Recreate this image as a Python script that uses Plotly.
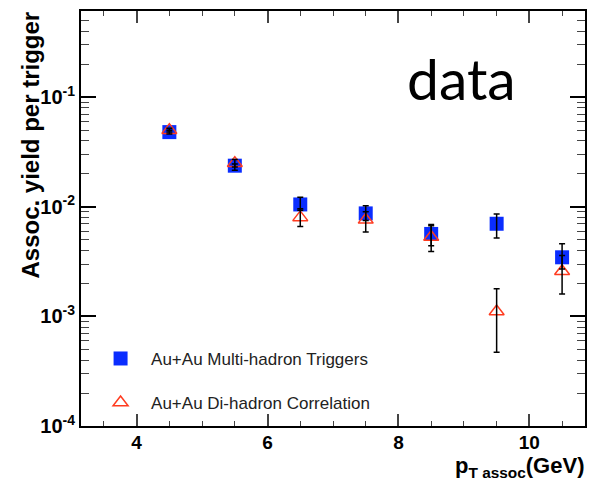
import plotly.graph_objects as go

x_vals = [4.5, 5.5, 6.5, 7.5, 8.5, 9.5, 10.5]

multi_y = [0.048, 0.0237, 0.0105, 0.0087, 0.00565, 0.0070, 0.00346]
multi_hi = [0.050, 0.0245, 0.0122, 0.0102, 0.0069, 0.0086, 0.0046]
multi_lo = [0.046, 0.0215, 0.0093, 0.0075, 0.0044, 0.0052, 0.0027]

di_y = [0.050, 0.025, 0.0080, 0.0076, 0.0053, 0.00111, 0.00258]
di_hi = [0.052, 0.027, 0.0096, 0.0090, 0.0067, 0.00179, 0.0036]
di_lo = [0.048, 0.023, 0.0066, 0.0059, 0.0039, 0.00047, 0.0016]

x_ticks = [4, 6, 8, 10]
y_ticks = [1e-4, 1e-3, 1e-2, 1e-1]
y_ticktext = ["<b>10<sup>-4</sup></b>", "<b>10<sup>-3</sup></b>", "<b>10<sup>-2</sup></b>", "<b>10<sup>-1</sup></b>"]

name_multi = "Au+Au Multi-hadron Triggers"
name_di = "Au+Au Di-hadron Correlation"

FONT = "Liberation Sans, Arial, sans-serif"
BLUE = "#0a2dff"
RED = "#ff3b1f"

X_RANGE = [3.15, 10.85]

fig = go.Figure()

fig.add_trace(go.Scatter(
    x=x_vals, y=multi_y, mode="markers", name=name_multi, legendgroup="a",
    marker=dict(symbol="square", size=14, color=BLUE, line=dict(width=0)),
))
fig.add_trace(go.Scatter(
    x=x_vals, y=di_y, mode="markers", name=name_di, legendgroup="b",
    marker=dict(symbol="triangle-up-open", size=13, color=RED, line=dict(width=1.5, color=RED)),
))


def err(vals, hi, lo):
    return ([h - v for h, v in zip(hi, vals)], [v - l for v, l in zip(vals, lo)])


up, dn = err(multi_y, multi_hi, multi_lo)
fig.add_trace(go.Scatter(
    x=x_vals, y=multi_y, mode="markers", showlegend=False, hoverinfo="skip",
    marker=dict(size=1, color="rgba(0,0,0,0)"),
    error_y=dict(type="data", symmetric=False, array=up, arrayminus=dn,
                 color="black", thickness=1.5, width=3),
))
up, dn = err(di_y, di_hi, di_lo)
fig.add_trace(go.Scatter(
    x=x_vals, y=di_y, mode="markers", showlegend=False, hoverinfo="skip",
    marker=dict(size=1, color="rgba(0,0,0,0)"),
    error_y=dict(type="data", symmetric=False, array=up, arrayminus=dn,
                 color="black", thickness=1.5, width=3),
))

y_minor = []
for e in range(-4, 0):
    for m in range(2, 10):
        v = m * 10 ** e
        if v < 0.61:
            y_minor.append(v)

PW, PH, L, T = 506.0, 417.0, 81.0, 9.0

fig.update_layout(
    width=596, height=481,
    margin=dict(l=81, r=9, t=9, b=55),
    plot_bgcolor="white", paper_bgcolor="white",
    font=dict(family=FONT, color="black"),
    showlegend=True,
    legend=dict(x=0.018, y=0.205, xanchor="left", yanchor="top",
                bgcolor="rgba(0,0,0,0)", font=dict(size=17, color="#222222", family=FONT),
                tracegroupgap=19, traceorder="grouped", itemwidth=51),
    xaxis=dict(
        range=X_RANGE, showline=True, linewidth=2, linecolor="black", mirror="ticks",
        showgrid=False, zeroline=False,
        tickmode="array", tickvals=x_ticks, ticktext=["<b>%d</b>" % t for t in x_ticks],
        ticks="inside", ticklen=12, tickwidth=1.5, tickcolor="#444",
        tickfont=dict(size=19, family=FONT, color="black"),
        ticklabelstandoff=-2,
        minor=dict(dtick=0.5, tick0=0, ticks="inside", ticklen=5, tickwidth=1.2, tickcolor="#444", showgrid=False),
    ),
    yaxis=dict(
        type="log", range=[-4, -0.214], showline=True, linewidth=2, linecolor="black", mirror="ticks",
        showgrid=False, zeroline=False,
        tickmode="array", tickvals=y_ticks, ticktext=y_ticktext,
        ticks="inside", ticklen=15, tickwidth=1.5, tickcolor="black",
        tickfont=dict(size=20, family=FONT, color="black"),
        minor=dict(tickmode="array", tickvals=y_minor, ticks="inside", ticklen=8, tickwidth=1.2, tickcolor="#444", showgrid=False),
    ),
    annotations=[
        dict(text="<b>Assoc. yield per trigger</b>", x=(30 - L) / PW, y=(426 - 144) / PH,
             xref="paper", yref="paper",
             textangle=-90, showarrow=False, font=dict(size=24, family=FONT, color="black"),
             xanchor="center", yanchor="middle"),
        dict(text="<b>p<sub>T assoc</sub>(GeV)</b>", x=1.0, y=(426 - 482) / PH, xref="paper", yref="paper",
             showarrow=False, font=dict(size=22, family=FONT, color="black"),
             xanchor="right", yanchor="bottom", borderpad=0),
        dict(text="data", x=(463 - L) / PW, y=(426 - 76) / PH, xref="paper", yref="paper",
             showarrow=False,
             font=dict(size=57, family="Lato, Noto Sans, sans-serif", color="black"),
             xanchor="center", yanchor="middle"),
    ],
)

fig.write_html("out.html")
